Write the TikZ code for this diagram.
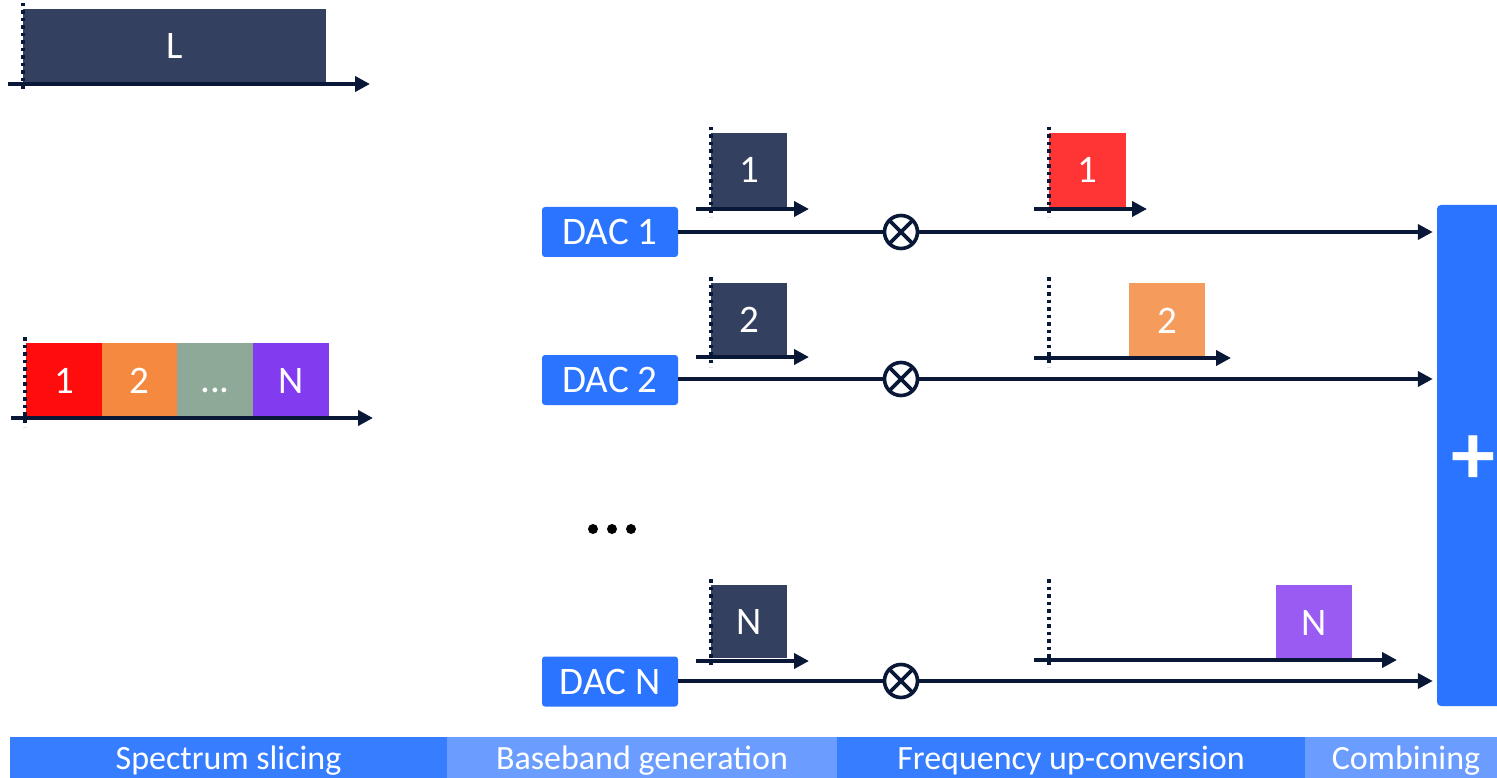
\documentclass[tikz,border=0pt]{standalone}
\usepackage{fontspec}
\setmainfont{Carlito}
\usetikzlibrary{arrows.meta}
\definecolor{darkblk}{HTML}{344060}
\definecolor{navy}{HTML}{0A1838}
\definecolor{redA}{HTML}{FF0D0D}
\definecolor{orangeA}{HTML}{F4893F}
\definecolor{grayA}{HTML}{8FA999}
\definecolor{purpleA}{HTML}{833BF0}
\definecolor{redB}{HTML}{FF3535}
\definecolor{orangeB}{HTML}{F59B5C}
\definecolor{purpleB}{HTML}{9A5BF2}
\definecolor{dacblue}{HTML}{2A74FF}
\definecolor{bardark}{HTML}{377DFF}
\definecolor{barlight}{HTML}{6A9DFF}
\tikzset{
  txt/.style={font=\fontsize{39}{42}\selectfont, text=white},
  blk/.style 2 args={txt, fill=#1, draw=none, inner sep=0pt, minimum height=#2},
  axisarrow/.style={draw=navy, line width=3.8pt, -{Triangle[length=15pt,width=15pt]}},
  dotline/.style={draw=navy, line width=3.3pt, dash pattern=on 3.5pt off 4pt},
  dacbox/.style={txt, fill=dacblue, rounded corners=3pt, minimum width=136pt, minimum height=50pt, inner sep=0pt},
  mixer/.style={circle, draw=navy, line width=3.6pt, minimum size=33pt, inner sep=0pt,
    path picture={\draw[navy, line width=3.6pt] (path picture bounding box.south west) -- (path picture bounding box.north east) (path picture bounding box.north west) -- (path picture bounding box.south east);}},
  mainline/.style={draw=navy, line width=3.8pt},
  bar/.style={font=\fontsize{34}{38}\selectfont, text=white, fill=#1, inner sep=0pt, minimum height=41pt, text height=28pt, text depth=5pt},
}
\begin{document}
\begin{tikzpicture}[x=1pt, y=-1pt]
\useasboundingbox[fill=white] (0,0) rectangle (1497,778);

% --- Top L spectrum
\node[blk={darkblk}{73pt}, minimum width=303pt] (L) at (174.5,45.5) {L};
\draw[dotline] (23,3) -- (23,92);
\draw[axisarrow] (8,84) -- (370,84);

% --- Sliced spectrum
\node[blk={redA}{75pt}, minimum width=76pt] (s1) at (64,380.5) {1};
\node[blk={orangeA}{75pt}, minimum width=75pt] (s2) at (139.5,380.5) {2};
\node[blk={grayA}{75pt}, minimum width=76pt] (s3) at (215,380.5) {\vphantom{1}...};
\node[blk={purpleA}{75pt}, minimum width=76pt] (sN) at (291,380.5) {N};
\draw[dotline] (25,337) -- (25,427);
\draw[axisarrow] (11,418) -- (373,418);

% --- Baseband spectra
\node[blk={darkblk}{74pt}, minimum width=76pt] (b1) at (749,170) {1};
\draw[dotline] (711,127) -- (711,217);
\draw[axisarrow] (696,209) -- (809,209);
\node[blk={darkblk}{74pt}, minimum width=76pt] (b2) at (749,320) {2};
\draw[dotline] (711,277) -- (711,367);
\draw[axisarrow] (696,357) -- (809,357);
\node[blk={darkblk}{73pt}, minimum width=76pt] (bN) at (749,621.5) {N};
\draw[dotline] (711,579) -- (711,668);
\draw[axisarrow] (696,661) -- (809,661);

% --- Up-converted spectra
\node[blk={redB}{74pt}, minimum width=77pt] (u1) at (1087.5,170) {1};
\draw[dotline] (1049,127) -- (1049,217);
\draw[axisarrow] (1034,209) -- (1147,209);
\node[blk={orangeB}{75pt}, minimum width=76pt] (u2) at (1167,320.5) {2};
\draw[dotline] (1049,277) -- (1049,367);
\draw[axisarrow] (1034,358) -- (1231,358);
\node[blk={purpleB}{75pt}, minimum width=76pt] (uN) at (1314,622.5) {N};
\draw[dotline] (1049,579) -- (1049,668);
\draw[axisarrow] (1034,660) -- (1397,660);

% --- Combiner
\node[fill=dacblue, rounded corners=4pt, minimum width=65pt, minimum height=501pt, inner sep=0pt,
      text height=57pt, text depth=0pt,
      text=white, font=\bfseries\fontsize{88}{88}\selectfont] (plus) at (1469.5,455.5) {\hspace{7pt}+};

% --- DACs and mixers
\node[dacbox] (dac1) at (610,232) {DAC 1};
\node[dacbox] (dac2) at (610,380) {DAC 2};
\node[dacbox] (dacN) at (610,681.5) {DAC N};
\node[mixer] (m1) at (901,232) {};
\node[mixer] (m2) at (901,379) {};
\node[mixer] (mN) at (901,681) {};

\draw[mainline] (dac1.east |- m1) -- (m1);
\draw[mainline] (dac2.east |- m2) -- (m2);
\draw[mainline] (dacN.east |- mN) -- (mN);
\draw[mainline, axisarrow, shorten >=4pt] (m1) -- (m1 -| plus.west);
\draw[mainline, axisarrow, shorten >=4pt] (m2) -- (m2 -| plus.west);
\draw[mainline, axisarrow, shorten >=4pt] (mN) -- (mN -| plus.west);

% --- vertical ellipsis
\fill[black] (593,529) circle (5pt) (612,529) circle (5pt) (631,529) circle (5pt);

% --- Stage bar
\node[bar=bardark, minimum width=437pt] (st1) at (228.5,757.5) {Spectrum slicing};
\node[bar=barlight, minimum width=390pt] (st2) at (642,757.5) {Baseband generation};
\node[bar=bardark, minimum width=468pt] (st3) at (1071,757.5) {Frequency up-conversion};
\node[bar=barlight, minimum width=192pt] (st4) at (1401,757.5) {\hspace{10pt}Combining};
\end{tikzpicture}
\end{document}
